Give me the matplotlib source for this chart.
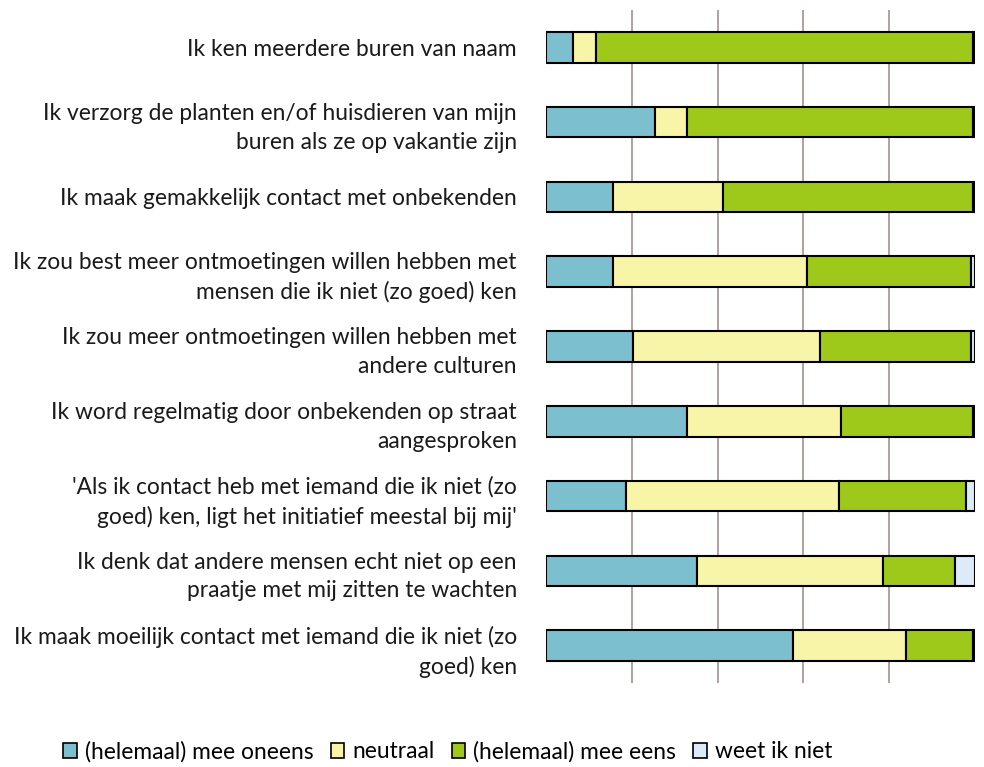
import matplotlib.pyplot as plt
from matplotlib.patches import Patch

# statements, top to bottom
labels = [
    "Ik ken meerdere buren van naam",
    "Ik verzorg de planten en/of huisdieren van mijn\nburen als ze op vakantie zijn",
    "Ik maak gemakkelijk contact met onbekenden",
    "Ik zou best meer ontmoetingen willen hebben met\nmensen die ik niet (zo goed) ken",
    "Ik zou meer ontmoetingen willen hebben met\nandere culturen",
    "Ik word regelmatig door onbekenden op straat\naangesproken",
    "'Als ik contact heb met iemand die ik niet (zo\ngoed) ken, ligt het initiatief meestal bij mij'",
    "Ik denk dat andere mensen echt niet op een\npraatje met mij zitten te wachten",
    "Ik maak moeilijk contact met iemand die ik niet (zo\ngoed) ken",
]

# percentages per answer
oneens = [6.2, 25.4, 15.5, 15.5, 20.2, 32.8, 18.7, 35.2, 57.6]
neutraal = [5.5, 7.4, 25.7, 45.3, 43.7, 36.0, 49.7, 43.4, 26.2]
eens = [87.9, 66.8, 58.4, 38.3, 35.2, 30.8, 29.4, 16.8, 15.8]
weet_niet = [0.4, 0.4, 0.4, 0.9, 0.9, 0.4, 2.2, 4.6, 0.4]

series = [oneens, neutraal, eens, weet_niet]
names = ["(helemaal) mee oneens", "neutraal", "(helemaal) mee eens", "weet ik niet"]
colors = ["#7cc0d0", "#f8f5a8", "#9fc91a", "#dcebf7"]

plt.rcParams['font.family'] = ['Lato', 'DejaVu Sans']

fig = plt.figure(figsize=(9.84, 7.67), dpi=100)
ax = fig.add_axes([0.5549, 0.1095, 0.436, 0.8775])

y = list(range(len(labels)))
left = [0.0] * len(labels)
for vals, col in zip(series, colors):
    ax.barh(y, vals, left=left, height=0.41, color=col,
            edgecolor="black", linewidth=1.5, zorder=3)
    left = [l + v for l, v in zip(left, vals)]

ax.set_xlim(0, 100)
ax.set_ylim(len(labels) - 0.5, -0.5)
for gx in [20, 40, 60, 80]:
    ax.axvline(gx, color="#a89a98", linewidth=1.3, zorder=1)

ax.set_xticks([])
ax.set_yticks(y)
ax.set_yticklabels(labels, fontsize=16.4, color="#1a1a1a", linespacing=1.45)
ax.tick_params(axis="y", length=0, pad=21)
for s in ax.spines.values():
    s.set_visible(False)

handles = [Patch(facecolor=c, edgecolor="black", linewidth=1.2) for c in colors]
fig.legend(handles, names, loc="center", bbox_to_anchor=(0.455, 0.02),
           ncol=4, frameon=False, fontsize=16.4, handlelength=0.6,
           handleheight=0.6, handletextpad=0.35, columnspacing=0.75)

fig.savefig("out.png", dpi=100, facecolor="white")
